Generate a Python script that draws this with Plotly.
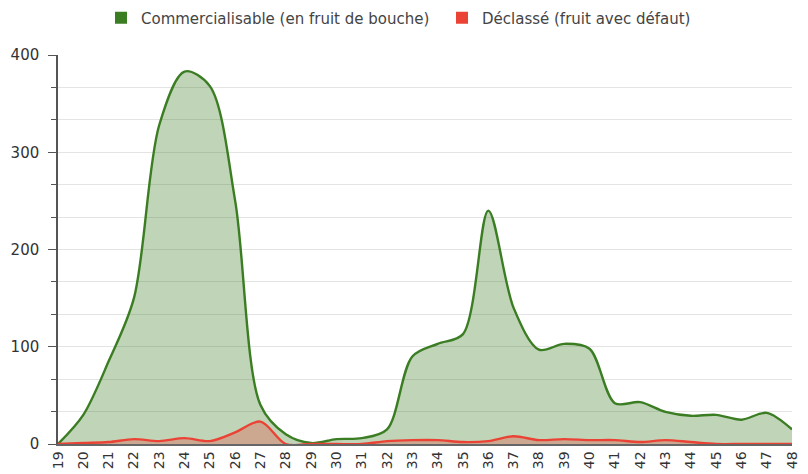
import plotly.graph_objects as go

weeks = list(range(19, 49))
commercialisable = [0, 30, 85, 150, 328, 383, 368, 250, 40, 10, 1, 5, 6, 15, 90, 103, 113, 240, 140, 97, 103, 98, 42, 43, 33, 29, 30, 25, 32, 15]
declasse = [0, 1, 2, 5, 3, 6, 3, 12, 23, 0, 0, 0, 0, 3, 4, 4, 2, 3, 8, 4, 5, 4, 4, 2, 4, 2, 0, 0, 0, 0]
names = ["Commercialisable (en fruit de bouche)", "Déclassé (fruit avec défaut)"]
line_colors = ["#3b7d23", "#ea4335"]
fill_colors = ["rgba(59,125,35,0.32)", "rgba(234,67,53,0.3)"]

fig = go.Figure()
for vals, name, lc, fc in zip([commercialisable, declasse], names, line_colors, fill_colors):
    fig.add_trace(go.Scatter(x=weeks, y=vals, mode="lines", line=dict(color=lc, width=2.4, shape="spline", smoothing=0.9),
                             fill="tozeroy", fillcolor=fc, showlegend=False, hoverinfo="x+y"))
for name, lc in zip(names, line_colors):
    fig.add_trace(go.Scatter(x=[None], y=[None], mode="markers", name=name,
                             marker=dict(symbol="square", size=16, color=lc)))

fig.update_layout(
    width=808, height=474,
    margin=dict(l=50, r=24, t=47, b=38, autoexpand=False),
    paper_bgcolor="white", plot_bgcolor="white",
    font=dict(family="DejaVu Sans, sans-serif", size=15, color="#333"),
    legend=dict(orientation="h", x=93/808, xanchor="left", xref="container", y=1 - 10/474, yref="container",
                yanchor="middle", entrywidth=296, entrywidthmode="pixels",
                font=dict(size=15, color="#444"), itemsizing="constant", tracegroupgap=0),
    xaxis=dict(range=[19, 48], tickmode="array", tickvals=weeks, ticktext=[str(w) for w in weeks],
               tickangle=-90, showgrid=False, zeroline=False, showline=True, linecolor="#666", linewidth=1.5,
               ticks="", tickfont=dict(size=14, color="#333"), automargin=False),
    yaxis=dict(range=[0, 400], tickvals=[0, 100, 200, 300, 400], showgrid=True, gridcolor="#e4e4e4",
               zeroline=False, showline=True, linecolor="#555", linewidth=1.5, ticks="outside", ticklen=8,
               tickcolor="#555", tickfont=dict(size=15, color="#333"), automargin=False, ticklabelstandoff=6,
               minor=dict(tickvals=[100/3*i for i in range(13)], ticks="outside", ticklen=5, tickcolor="#555",
                          showgrid=True, gridcolor="#e4e4e4")),
)
fig.write_html("out.html")
